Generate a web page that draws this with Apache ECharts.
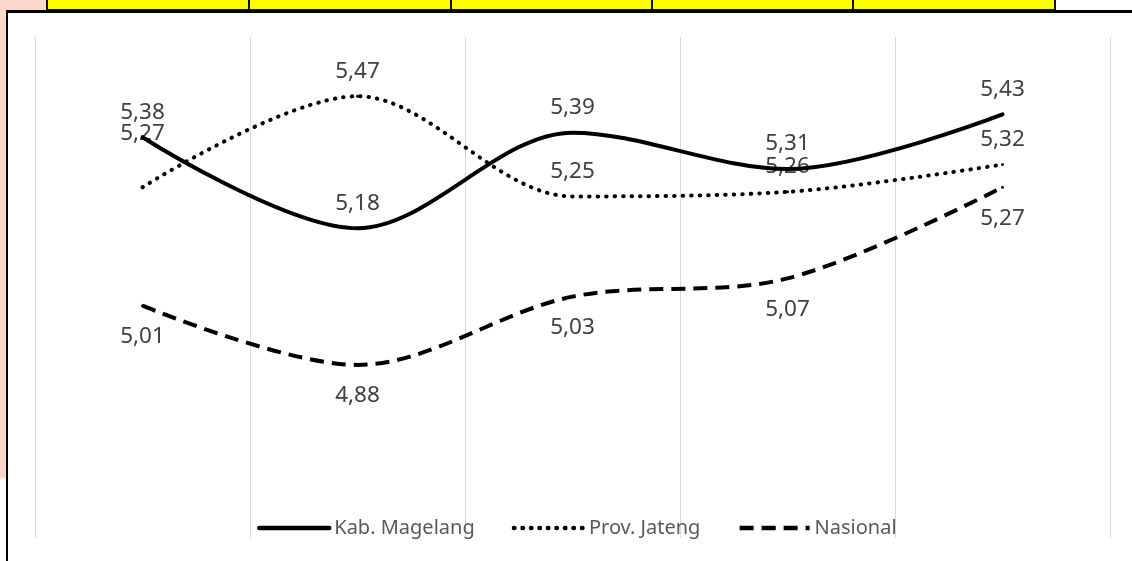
<!DOCTYPE html>
<html>
<head>
<meta charset="utf-8">
<script src="https://cdn.jsdelivr.net/npm/echarts@6/dist/echarts.min.js"></script>
<style>
  html, body { margin: 0; padding: 0; background: #fff; }
  .wrap { position: relative; width: 1132px; height: 561px; overflow: hidden; }
  .pink { position: absolute; background: #f9d8ca; }
  .cell { position: absolute; top: -2px; height: 9px; background: #ffff00; border: 2px solid #111; box-sizing: content-box; }
  .frame-top { position: absolute; left: 6px; top: 10px; width: 1126px; height: 3px; background: #000; }
  .frame-left { position: absolute; left: 6px; top: 10px; width: 2px; height: 551px; background: #000; }
  #chart { position: absolute; left: 0; top: 0; width: 1132px; height: 561px; }
</style>
</head>
<body>
<div class="wrap">
  <div class="pink" style="left:0;top:0;width:47px;height:11px"></div>
  <div class="pink" style="left:0;top:0;width:6px;height:478px"></div>
  <div class="cell" style="left:46px;width:200px"></div>
  <div class="cell" style="left:248px;width:200px"></div>
  <div class="cell" style="left:450px;width:199px"></div>
  <div class="cell" style="left:651px;width:199px"></div>
  <div class="cell" style="left:852px;width:200px"></div>
  <div class="frame-top"></div>
  <div class="frame-left"></div>
  <div id="chart"></div>
</div>
<script>
// data (comma decimals shown in labels)
var categories = ['1', '2', '3', '4', '5'];
var kabMagelang = [5.38, 5.18, 5.39, 5.31, 5.43];
var provJateng = [5.27, 5.47, 5.25, 5.26, 5.32];
var nasional = [5.01, 4.88, 5.03, 5.07, 5.27];

var fmt = function (p) { return p.value.toFixed(2).replace('.', ','); };

var labelBase = {
  show: true,
  formatter: fmt,
  color: '#404040',
  fontFamily: 'Noto Sans',
  fontSize: 22.5
};

// first Prov. Jateng label sits higher in the original
var provData = provJateng.map(function (v, i) {
  if (i === 0) return { value: v, label: { offset: [0, -29] } };
  return v;
});

var chart = echarts.init(document.getElementById('chart'));
chart.setOption({
  backgroundColor: 'transparent',
  animation: false,
  grid: { left: 35, right: 22, top: 37, bottom: 23 },
  legend: {
    bottom: 18,
    left: 252,
    itemWidth: 70,
    itemHeight: 3,
    itemGap: 37,
    lineStyle: { width: 4.5 },
    textStyle: { color: '#595959', fontFamily: 'Noto Sans', fontSize: 20 },
    data: ['Kab. Magelang', 'Prov. Jateng', 'Nasional']
  },
  xAxis: {
    type: 'category',
    data: categories,
    boundaryGap: true,
    axisLine: { show: false },
    axisTick: { show: false },
    axisLabel: { show: false },
    splitLine: { show: true, lineStyle: { color: '#d9d9d9', width: 1 } }
  },
  yAxis: {
    type: 'value',
    min: 4.5,
    max: 5.6,
    show: false,
    splitLine: { show: false }
  },
  series: [
    {
      name: 'Kab. Magelang',
      type: 'line',
      data: kabMagelang,
      smooth: 0.33,
      symbol: 'circle',
      symbolSize: 3,
      lineStyle: { color: '#000', width: 4, cap: 'round' },
      itemStyle: { color: '#000' },
      label: Object.assign({ position: 'top', distance: 12 }, labelBase),
      z: 3
    },
    {
      name: 'Prov. Jateng',
      type: 'line',
      data: provData,
      smooth: 0.33,
      symbol: 'circle',
      symbolSize: 3,
      lineStyle: { color: '#000', width: 4, type: [0.5, 8], cap: 'round' },
      itemStyle: { color: '#000' },
      label: Object.assign({ position: 'top', distance: 12 }, labelBase),
      z: 2
    },
    {
      name: 'Nasional',
      type: 'line',
      data: nasional,
      smooth: 0.33,
      symbol: 'circle',
      symbolSize: 3,
      lineStyle: { color: '#000', width: 4, type: [14, 8] },
      itemStyle: { color: '#000' },
      label: Object.assign({ position: 'bottom', distance: 18 }, labelBase),
      z: 2
    }
  ]
});
</script>
</body>
</html>
